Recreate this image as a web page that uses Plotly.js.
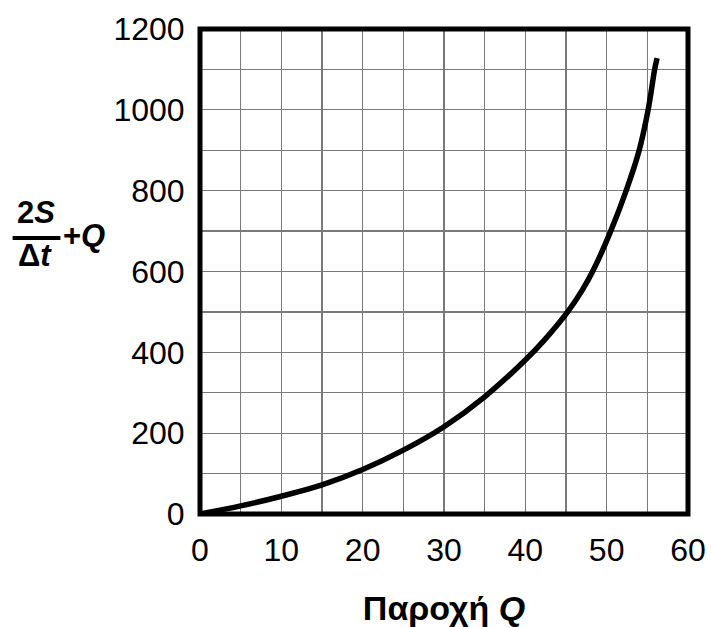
<!DOCTYPE html>
<html>
<head>
<meta charset="utf-8">
<script src="https://cdn.plot.ly/plotly-3.0.1.min.js"></script>
<style>html,body{margin:0;padding:0;background:#fff;}#chart{width:711px;height:627px;}</style>
</head>
<body>
<div id="chart"></div>
<script>
// Data
const flowQ = [0, 5, 10, 15, 20, 25, 30, 35, 40, 42.5, 45.2, 47, 48.3, 50.5, 52.4, 54.0, 55.1, 55.9, 56.2];
const storageValue = [0, 20, 44, 72, 110, 158, 216, 290, 381, 434, 500, 554, 601, 700, 800, 900, 1000, 1100, 1128];
const xTickVals = [0, 10, 20, 30, 40, 50, 60];
const yTickVals = [0, 200, 400, 600, 800, 1000, 1200];

const FONT = '"Liberation Sans", Arial, Helvetica, sans-serif';

const trace = {
  x: flowQ,
  y: storageValue,
  type: 'scatter',
  mode: 'lines',
  line: {color: '#000', width: 5.5, shape: 'spline', smoothing: 1},
  hoverinfo: 'skip'
};

const layout = {
  width: 711, height: 627,
  margin: {l: 200, r: 23, t: 29, b: 113},
  paper_bgcolor: '#fff', plot_bgcolor: '#fff',
  showlegend: false,
  font: {family: FONT, color: '#000'},
  xaxis: {
    range: [0, 60], tickvals: xTickVals, ticktext: xTickVals.map(String),
    showgrid: true, gridcolor: '#7a7a7a', gridwidth: 1.2,
    minor: {dtick: 5, tick0: 0, showgrid: true, gridcolor: '#7a7a7a', gridwidth: 1.2},
    zeroline: false, showline: false,
    ticks: 'outside', ticklen: 8, tickcolor: 'rgba(0,0,0,0)',
    tickfont: {size: 32, family: FONT},
    title: {text: '<b>Παροχή <i>Q</i></b>', font: {size: 34, family: FONT}, standoff: 29},
    fixedrange: true
  },
  yaxis: {
    range: [0, 1200], tickvals: yTickVals, ticktext: yTickVals.map(String),
    showgrid: true, gridcolor: '#7a7a7a', gridwidth: 1.2,
    minor: {dtick: 100, tick0: 0, showgrid: true, gridcolor: '#7a7a7a', gridwidth: 1.2},
    zeroline: false, showline: false,
    ticks: 'outside', ticklen: 8, tickcolor: 'rgba(0,0,0,0)',
    tickfont: {size: 32, family: FONT},
    fixedrange: true
  },
  shapes: [
    {type: 'rect', xref: 'paper', yref: 'paper', x0: 0, x1: 1, y0: 0, y1: 1,
     line: {color: '#000', width: 5}, layer: 'above'},
    {type: 'line', xref: 'paper', yref: 'paper', x0: -0.384, x1: -0.286, y0: 0.569, y1: 0.569,
     line: {color: '#000', width: 4}}
  ],
  annotations: [
    {xref: 'paper', yref: 'paper', x: -0.336, y: 0.621, xanchor: 'center', yanchor: 'middle',
     text: '<b>2<i>S</i></b>', showarrow: false, font: {size: 31, family: FONT}},
    {xref: 'paper', yref: 'paper', x: -0.338, y: 0.532, xanchor: 'center', yanchor: 'middle',
     text: '<b>Δ<i>t</i></b>', showarrow: false, font: {size: 31, family: FONT}},
    {xref: 'paper', yref: 'paper', x: -0.284, y: 0.575, xanchor: 'left', yanchor: 'middle',
     text: '<b>+<i>Q</i></b>', showarrow: false, font: {size: 31, family: FONT}}
  ]
};

Plotly.newPlot('chart', [trace], layout, {displayModeBar: false, staticPlot: true});
</script>
</body>
</html>
